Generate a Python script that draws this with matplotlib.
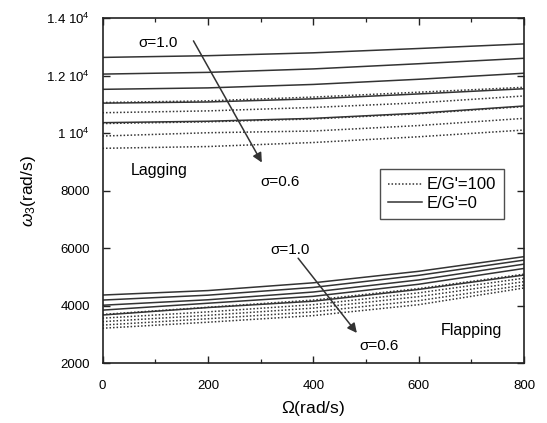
import numpy as np
import matplotlib
matplotlib.use("Agg")
import matplotlib.pyplot as plt
from matplotlib.ticker import MultipleLocator, FixedLocator

plt.rcParams['font.family'] = ['Liberation Sans', 'DejaVu Sans']
plt.rcParams['mathtext.fontset'] = 'custom'
plt.rcParams['mathtext.rm'] = 'Liberation Sans'
plt.rcParams['mathtext.it'] = 'Liberation Sans:italic'

# rotor speed (rad/s)
omega = [0, 200, 400, 600, 800]
sigma = [1.0, 0.9, 0.8, 0.7, 0.6]

# lagging frequencies, E/G'=0 (solid) and E/G'=100 (dotted), one row per sigma
lag_eg0 = [
    [12640, 12700, 12800, 12950, 13110],
    [12060, 12120, 12240, 12420, 12610],
    [11530, 11580, 11700, 11880, 12090],
    [11050, 11090, 11200, 11370, 11550],
    [10370, 10420, 10520, 10700, 10950],
]
lag_eg100 = [
    [11070, 11130, 11260, 11430, 11600],
    [10716, 10780, 10900, 11060, 11300],
    [10340, 10400, 10500, 10680, 10930],
    [9905, 10020, 10080, 10270, 10520],
    [9478, 9540, 9680, 9880, 10114],
]

# flapping frequencies
flap_eg0 = [
    [4375, 4530, 4800, 5200, 5710],
    [4200, 4370, 4640, 5060, 5590],
    [4020, 4210, 4480, 4900, 5450],
    [3850, 4090, 4330, 4750, 5300],
    [3680, 3940, 4160, 4570, 5070],
]
flap_eg100 = [
    [3700, 3950, 4200, 4600, 5100],
    [3570, 3790, 4040, 4450, 4960],
    [3450, 3670, 3920, 4320, 4840],
    [3330, 3550, 3790, 4180, 4720],
    [3220, 3430, 3660, 4040, 4620],
]

ytick_vals = [2000, 4000, 6000, 8000, 10000, 12000, 14000]
ytick_text = ['2000', '4000', '6000', '8000', r'1 10$^4$', r'1.2 10$^4$', r'1.4 10$^4$']

col = '#333333'
dot = (0, (1, 1.3))

fig = plt.figure(figsize=(5.47, 4.23), dpi=100)
ax = fig.add_axes([0.1874, 0.1411, 0.7706, 0.8156])

for i in range(len(sigma)):
    ax.plot(omega, lag_eg100[i], color=col, lw=1.1, ls=dot,
            label="E/G'=100" if i == 0 else None)
    ax.plot(omega, lag_eg0[i], color=col, lw=1.1, ls='-',
            label="E/G'=0" if i == 0 else None)
    ax.plot(omega, flap_eg100[i], color=col, lw=1.1, ls=dot)
    ax.plot(omega, flap_eg0[i], color=col, lw=1.1, ls='-')

ax.set_xlim(0, 800)
ax.set_ylim(2000, 14000)

ax.xaxis.set_major_locator(MultipleLocator(200))
ax.xaxis.set_minor_locator(MultipleLocator(100))
ax.yaxis.set_major_locator(FixedLocator(ytick_vals))
ax.set_yticklabels(ytick_text)
ax.tick_params(which='both', direction='in', top=True, right=True,
               labelsize=9.5, color='#222222')
ax.tick_params(which='major', length=5, width=1.0)
ax.tick_params(which='minor', length=3, width=0.9)
ax.tick_params(axis='x', pad=12)
ax.tick_params(axis='y', pad=9)
for s in ax.spines.values():
    s.set_linewidth(1.2)
    s.set_color('#222222')

ax.set_xlabel(r'$\Omega$(rad/s)', fontsize=12.5, labelpad=5)
ax.set_ylabel(r'$\omega_3$(rad/s)', fontsize=12.5, labelpad=6)

# sigma arrows and annotations
arr = dict(arrowstyle='-|>', color=col, lw=1.1, mutation_scale=14)
ax.annotate('', xy=(305, 8900), xytext=(170, 13300), arrowprops=arr)
ax.annotate('', xy=(486, 2980), xytext=(368, 5732), arrowprops=arr)

ax.text(106, 13140, 'σ=1.0', fontsize=11, ha='center', va='center')
ax.text(337, 8302, 'σ=0.6', fontsize=11, ha='center', va='center')
ax.text(107, 8719, 'Lagging', fontsize=11.5, ha='center', va='center')
ax.text(356, 5942, 'σ=1.0', fontsize=11, ha='center', va='center')
ax.text(524, 2602, 'σ=0.6', fontsize=11, ha='center', va='center')
ax.text(700, 3158, 'Flapping', fontsize=11.5, ha='center', va='center')

leg = ax.legend(loc='upper left', bbox_to_anchor=(0.658, 0.563), fontsize=12,
                frameon=True, fancybox=False, handlelength=2.0,
                handletextpad=0.3, labelspacing=0.2, borderpad=0.5,
                borderaxespad=0)
leg.get_frame().set_edgecolor('#222222')
leg.get_frame().set_linewidth(1.0)

fig.savefig('out.png', dpi=100)
